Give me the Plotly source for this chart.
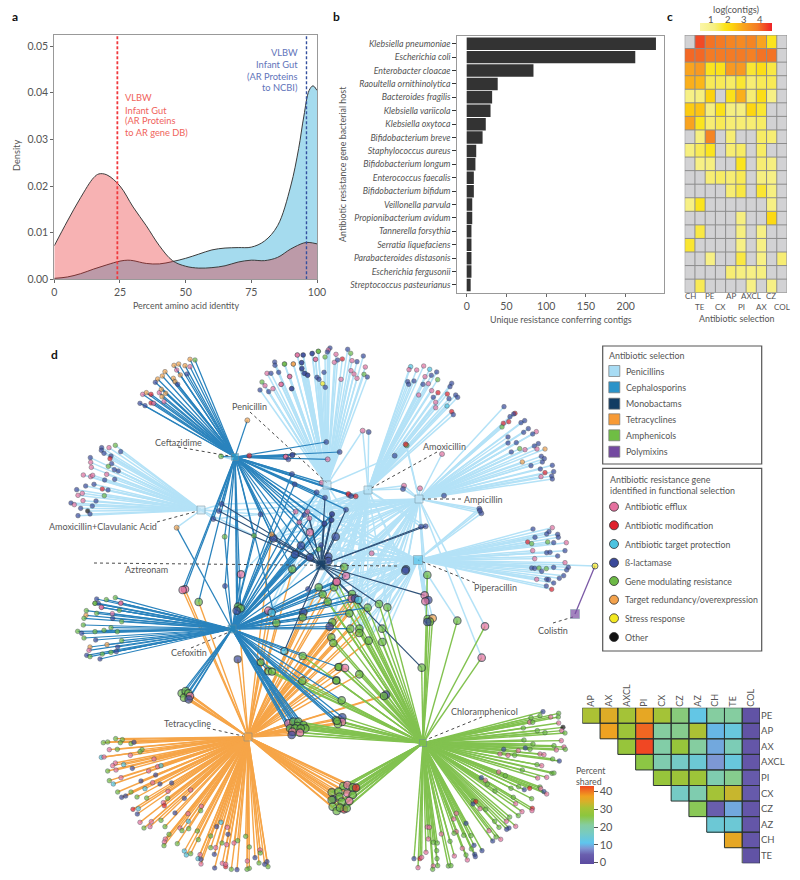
import plotly.graph_objects as go

W, H = 800, 880
FONT = "Lato"
TXT = "#555555"

# ---------- panel a ----------
identity_red = [0, 5, 10, 15, 17, 20, 25, 30, 35, 40, 45, 50, 55, 60, 65, 70, 75, 80, 85, 90, 95, 97, 100]
density_red = [.0072, .0125, .0175, .0218, .0226, .0224, .0200, .0155, .0115, .0072, .0040, .0028, .0024, .0025,
               .0029, .0037, .0041, .0040, .0047, .0065, .0078, .0079, .0076]
identity_blue = [0, 5, 10, 15, 20, 25, 28, 30, 35, 40, 45, 50, 55, 60, 65, 70, 75, 80, 85, 90, 93, 95, 97, 98.5, 100]
density_blue = [.0002, .0005, .0012, .0022, .0031, .0039, .0041, .0040, .0034, .0033, .0038, .0045, .0054, .0063,
                .0067, .0068, .0069, .0082, .0115, .0200, .0280, .0350, .0405, .0415, .0405]
median_red = 24
median_blue = 96

# ---------- panel b ----------
hosts = ["Klebsiella pneumoniae", "Escherichia coli", "Enterobacter cloacae", "Raoultella ornithinolytica",
         "Bacteroides fragilis", "Klebsiella variicola", "Klebsiella oxytoca", "Bifidobacterium breve",
         "Staphylococcus aureus", "Bifidobacterium longum", "Enterococcus faecalis", "Bifidobacterium bifidum",
         "Veillonella parvula", "Propionibacterium avidum", "Tannerella forsythia", "Serratia liquefaciens",
         "Parabacteroides distasonis", "Escherichia fergusonii", "Streptococcus pasteurianus"]
contigs = [238, 212, 84, 39, 32, 30, 24, 20, 12, 11, 9, 9, 7, 7, 6, 6, 6, 6, 5]

# ---------- panel c ----------
selections = ["CH", "TE", "PE", "CX", "AP", "PI", "AXCL", "AX", "CZ", "COL"]
N = None
log_contigs = [
    [N, 4.3, 3.9, 3.8, 3.6, 3.5, 3.6, 3.0, 1.8, N],
    [4.0, 4.0, 3.8, 3.8, 3.8, 3.8, 3.7, 3.9, 3.9, N],
    [3.0, 3.2, 1.8, 1.9, 3.2, 3.2, 1.7, 2.0, 1.6, N],
    [2.8, 2.7, 1.5, 1.5, 1.4, 1.7, 1.3, 1.5, 1.5, N],
    [1.1, 1.2, 2.3, N, 1.9, 2.8, 1.3, 2.0, 1.1, N],
    [2.4, 2.5, 1.2, 1.9, 1.2, 1.2, 2.2, 1.7, N, N],
    [3.0, 1.8, 1.3, 1.5, 1.3, 1.3, 1.3, 1.4, N, N],
    [N, 1.2, 3.6, N, 1.3, N, N, 1.4, 1.3, N],
    [1.2, 1.5, 1.8, N, 1.3, 1.4, N, 1.4, N, N],
    [N, 1.1, 1.2, N, N, 1.8, N, 1.3, 1.2, N],
    [N, N, 1.3, 1.4, 1.3, 1.5, N, 1.2, 1.1, N],
    [N, N, N, N, 1.3, 1.6, N, 1.7, 1.2, N],
    [1.1, 1.8, N, N, N, N, N, N, 1.1, N],
    [N, N, N, N, N, 1.2, N, N, 2.1, N],
    [N, 1.6, N, N, N, 1.2, N, 1.1, N, N],
    [1.7, N, N, N, N, 1.1, N, 1.1, N, N],
    [N, N, 1.1, N, N, 1.6, N, 1.1, N, 1.3],
    [N, N, N, N, 1.3, 1.2, 1.1, 1.2, N, N],
    [N, 1.5, N, N, N, N, 1.1, N, 1.1, N],
]

# ---------- panel d, shared heatmap ----------
shared_cols = ["AP", "AX", "AXCL", "PI", "CX", "CZ", "AZ", "CH", "TE", "COL"]
shared_rows = ["PE", "AP", "AX", "AXCL", "PI", "CX", "CZ", "AZ", "CH", "TE"]
percent_shared = [
    [31, 35, 30, 36, 30, 23, 12, 21, 21, 1],
    [N, 37, 29, 41, 21, 22, 31, 10, 13, 1],
    [N, N, 28, 44, 20, 28, 21, 9, 18, 2],
    [N, N, N, 26, 19, 16, 14, 8, 13, 2],
    [N, N, N, N, 28, 29, 29, 19, 22, 3],
    [N, N, N, N, N, 16, 19, 30, 33, 3],
    [N, N, N, N, N, N, 25, 4, 9, 2],
    [N, N, N, N, N, N, N, 14, 14, 2],
    [N, N, N, N, N, N, N, N, 36, 2],
    [N, N, N, N, N, N, N, N, N, 1],
]

# ---------- panel d, network ----------
hub_pos = {"P": (327, 485), "M": (368, 490), "A": (419, 499), "I": (418, 560), "C": (235, 457), "L": (201, 510),
           "Z": (321, 565), "F": (232, 629), "T": (248, 737), "H": (423, 743), "O": (575, 614)}
hub_fill = {"P": "#c6e7f6", "M": "#b4e0f4", "A": "#bfe4f6", "I": "#57c3ea", "C": "#2f9cc8", "L": "#bfe4f6",
            "Z": "#123c63", "F": "#2586b8", "T": "#f7a443", "H": "#7cc04a", "O": "#7b4fa3"}
hub_size = {"P": 8, "M": 8, "A": 8, "I": 9, "C": 7, "L": 8, "Z": 10, "F": 8, "T": 8, "H": 7, "O": 9}
edge_group = {"P": "pen", "M": "pen", "A": "pen", "I": "pen", "L": "pen", "C": "ceph", "F": "ceph", "Z": "mono",
              "T": "tet", "H": "amph", "O": "poly"}
edge_color = {"pen": "#b4e2f7", "tet": "#f6a548", "amph": "#82c250", "ceph": "#2a83bd", "mono": "#2f5279",
              "poly": "#7b5aa6"}
edge_width = {"pen": 1.5, "tet": 1.4, "amph": 1.4, "ceph": 1.25, "mono": 1.15, "poly": 1.3}
edge_order = ["pen", "tet", "amph", "ceph", "mono", "poly"]
gene_color = {"e": "#e5719f", "m": "#e0212c", "t": "#4cc3e0", "b": "#3b4a9b", "g": "#6db946", "o": "#f3a24c",
              "y": "#f3e820", "k": "#111111"}
gene_names = [("e", "Antibiotic efflux"), ("m", "Antibiotic modification"), ("t", "Antibiotic target protection"),
              ("b", "ß-lactamase"), ("g", "Gene modulating resistance"), ("o", "Target redundancy/overexpression"),
              ("y", "Stress response"), ("k", "Other")]
class_names = [("pen", "Penicillins", "#a8dcf4"), ("ceph", "Cephalosporins", "#2a93c9"),
               ("mono", "Monobactams", "#123c63"), ("tet", "Tetracyclines", "#f79a35"),
               ("amph", "Amphenicols", "#6fbe44"), ("poly", "Polymixins", "#7349a0")]

ceftazidime_top = [(465, 60, 'g'), (450, 58, 'o'), (450, 80, 'e'), (435, 77, 'o'), (416, 72, 'o'), (402, 76, 'o'),
    (375, 95, 'o'), (367, 108, 'o'), (353, 117, 'o'), (346, 127, 'b'), (410, 90, 'e'), (421, 105, 'o'), (441, 102, 'b'),
    (400, 115, 'o'), (405, 125, 'o'), (413, 133, 'b'), (358, 158, 'e'), (364, 148, 'o'), (377, 160, 'o'), (319, 158, 'o'),
    (308, 163, 'e'), (333, 163, 'm'), (333, 189, 'm'), (341, 190, 'e'), (372, 185, 'e'), (300, 190, 'b'), (315, 197, 'b'),
    (366, 170, 'o')]
clav_left = [(226, 316, 'g'), (207, 323, 'e'), (185, 323, 'b'), (184, 331, 'b'), (242, 335, 'b'), (192, 340, 'b'),
    (213, 348, 'b'), (210, 356, 'm'), (151, 353, 'b'), (152, 367, 'e'), (215, 371, 'b'), (154, 382, 'e'), (205, 379, 'g'),
    (223, 389, 'b'), (235, 393, 'b'), (130, 405, 'e'), (152, 410, 'e'), (158, 406, 'e'), (200, 403, 'e'), (194, 420, 'b'),
    (224, 418, 'b'), (162, 433, 'b'), (137, 438, 'b'), (187, 447, 'm'), (204, 450, 'b'), (110, 449, 'b'), (127, 460, 'e'),
    (114, 466, 'e'), (193, 467, 'g'), (129, 482, 'e'), (168, 483, 'b'), (93, 489, 'b'), (103, 494, 'e'), (157, 498, 'b'),
    (122, 505, 'b'), (143, 513, 'k'), (150, 522, 'b'), (114, 527, 'b')]
penicillin_top_l = [(772, 45, 'e'), (789, 45, 'b'), (817, 40, 'b'), (835, 34, 'g'), (826, 58, 'e'), (704, 66, 'b'),
    (705, 76, 'b'), (734, 72, 'g'), (760, 72, 'o'), (785, 68, 'b'), (681, 100, 'e'), (693, 100, 'b'), (716, 97, 'b'),
    (785, 87, 'b'), (749, 109, 'e'), (795, 100, 'b'), (803, 105, 'b'), (666, 126, 'g'), (675, 137, 'e'), (724, 133, 'e'),
    (660, 150, 'b'), (686, 155, 'b'), (699, 146, 'e'), (755, 146, 'b')]
penicillin_top_r = [(150, 24, 'b'), (145, 30, 'e'), (203, 28, 'b'), (115, 34, 'g'), (96, 41, 'b'), (142, 36, 'b'),
    (52, 45, 'e'), (70, 45, 'b'), (168, 43, 'e'), (212, 40, 'g'), (13, 72, 'g'), (40, 72, 'o'), (65, 68, 'b'), (107, 58, 'e'),
    (135, 51, 'g'), (250, 48, 'b'), (173, 60, 'b'), (187, 57, 'm'), (163, 67, 'e'), (216, 62, 'e'), (231, 65, 'b'),
    (256, 81, 'e'), (66, 85, 'b'), (213, 92, 'e'), (72, 100, 'b'), (83, 106, 'b'), (132, 97, 'b'), (252, 103, 'g'),
    (222, 102, 'e'), (29, 110, 'e'), (111, 112, 'b'), (117, 118, 'b'), (183, 118, 'e'), (231, 115, 'e'), (262, 111, 'b'),
    (3, 133, 'e'), (128, 131, 'y'), (136, 142, 'b'), (35, 146, 'b')]
amoxicillin_top = [(392, 80, 't'), (431, 78, 'e'), (449, 88, 't'), (387, 89, 'e'), (410, 90, 'e'), (470, 96, 'b'),
    (454, 106, 'b'), (435, 110, 'e'), (473, 119, 'g'), (383, 125, 'b'), (402, 123, 'b'), (386, 133, 'b'), (429, 133, 'b'),
    (445, 131, 'e'), (515, 130, 'b'), (510, 140, 'b'), (455, 152, 'e'), (474, 158, 'm'), (502, 162, 'm'), (416, 165, 'e'),
    (527, 165, 'b'), (460, 172, 'b'), (533, 172, 'b'), (507, 176, 'b'), (467, 187, 'e'), (501, 198, 't'), (467, 203, 'e'),
    (515, 215, 'm'), (520, 224, 'b')]
ampicillin_right = [(672, 200, 'b'), (705, 220, 'm'), (701, 222, 'b'), (690, 230, 'b'), (686, 245, 'm'), (670, 250, 'm'),
    (666, 261, 'g'), (734, 242, 'b'), (723, 248, 'b'), (745, 266, 'b'), (731, 277, 'b'), (769, 275, 'e'), (758, 282, 'b'),
    (684, 291, 'b'), (684, 309, 'b'), (709, 308, 'b'), (775, 311, 'b'), (763, 318, 'b'), (719, 326, 'g'), (735, 329, 'e'),
    (771, 327, 'e'), (795, 327, 'o'), (694, 336, 'b'), (784, 349, 'b'), (793, 356, 'b'), (787, 366, 'b'), (727, 366, 'o'),
    (753, 377, 'b'), (817, 376, 'b'), (781, 387, 'b'), (821, 395, 'b'), (795, 398, 'm'), (783, 410, 'e'), (815, 408, 'b'),
    (817, 417, 'b')]
piperacillin_right = [(817, 563, 'e'), (759, 567, 'b'), (807, 575, 'b'), (800, 582, 'b'), (833, 583, 'b'), (835, 592, 'b'),
    (765, 592, 'b'), (743, 606, 'm'), (755, 611, 'g'), (803, 606, 'g'), (821, 608, 'b'), (859, 608, 'e'), (855, 632, 'b'),
    (758, 632, 'e'), (800, 638, 'b'), (810, 637, 'b'), (833, 648, 'b'), (764, 656, 'e'), (855, 668, 'e'), (755, 684, 'b'),
    (764, 685, 'b'), (777, 684, 'g'), (799, 686, 'g'), (821, 682, 'b'), (865, 682, 'b'), (860, 690, 'b'), (785, 694, 'b'),
    (851, 707, 'b'), (838, 715, 'b'), (770, 718, 'e'), (800, 718, 'b'), (806, 719, 'b'), (821, 729, 'b'), (799, 738, 'b'),
    (815, 748, 'm')]
cefoxitin_left_a = [(105, 10, 'g'), (115, 10, 'b'), (183, 9, 'e'), (79, 32, 'g'), (125, 22, 'e'), (110, 40, 'g'),
    (178, 31, 'g'), (157, 41, 'e'), (78, 46, 'o'), (72, 55, 'g'), (158, 55, 'b'), (185, 65, 'g'), (70, 75, 'g'), (53, 94, 'g'),
    (65, 100, 'b'), (105, 95, 'g'), (132, 91, 'g'), (153, 83, 'g'), (172, 95, 'g'), (72, 114, 'g'), (107, 120, 'b'),
    (185, 122, 'g'), (141, 134, 'o'), (90, 141, 'o'), (173, 141, 'b'), (87, 151, 'e'), (127, 162, 'g'), (153, 157, 'g'),
    (169, 155, 'b'), (80, 166, 'b'), (90, 170, 'g'), (120, 177, 'b')]
cefoxitin_left_b = [(170, 777, 'b'), (199, 779, 'g'), (226, 773, 'g'), (165, 790, 'g'), (242, 790, 'e'), (184, 802, 'e')]
tetracycline_fan = [(167, 416, 'g'), (187, 419, 'g'), (130, 428, 'g'), (143, 426, 'g'), (181, 428, 'g'), (213, 431, 'g'),
    (222, 427, 'b'), (148, 449, 'e'), (172, 448, 'g'), (246, 449, 'g'), (240, 455, 'g'), (124, 472, 't'), (132, 471, 'e'),
    (211, 466, 'e'), (282, 477, 'e'), (166, 489, 'e'), (158, 497, 'e'), (191, 494, 't'), (217, 505, 'b'), (293, 500, 'e'),
    (303, 497, 't'), (143, 513, 'g'), (168, 510, 'e'), (266, 513, 'e'), (287, 525, 'b'), (183, 533, 'e'), (148, 542, 'g'),
    (243, 543, 'b'), (278, 548, 'e'), (300, 552, 'b'), (335, 549, 'b'), (160, 552, 't'), (255, 566, 't'), (213, 576, 'g'),
    (173, 576, 'g'), (324, 574, 'e'), (392, 570, 'e'), (197, 588, 'b'), (185, 592, 'b'), (231, 591, 'g'), (260, 594, 'g'),
    (323, 595, 'g'), (373, 595, 'b'), (310, 608, 'e'), (313, 617, 'm'), (219, 628, 'm'), (235, 626, 't'), (232, 642, 'b'),
    (424, 619, 'e'), (422, 632, 'g'), (345, 639, 'b'), (384, 641, 'e'), (240, 667, 'e'), (274, 665, 'e'), (270, 680, 'e'),
    (252, 684, 'g'), (303, 661, 'g'), (385, 664, 't'), (315, 680, 'g'), (360, 684, 'e'), (366, 692, 'g'), (386, 686, 'g'),
    (483, 667, 't'), (470, 680, 'b'), (502, 682, 'e'), (412, 693, 'g'), (327, 703, 'g'), (504, 703, 'b'), (452, 708, 'g'),
    (557, 709, 'g'), (316, 717, 'e'), (313, 726, 'e'), (312, 737, 'g'), (352, 731, 'g'), (415, 719, 'g'), (533, 722, 'g'),
    (522, 729, 'e'), (486, 729, 'g'), (500, 734, 'e'), (467, 743, 'e'), (452, 743, 'g'), (568, 741, 'g'), (373, 753, 't'),
    (379, 765, 't'), (392, 761, 'g'), (463, 763, 'b'), (420, 764, 'e'), (414, 776, 't'), (423, 778, 'b'), (423, 792, 'e'),
    (600, 750, 'e'), (601, 759, 'g'), (585, 773, 'b'), (562, 783, 'e'), (487, 790, 'e'), (497, 800, 'm'), (497, 793, 'e'),
    (621, 785, 'b'), (614, 793, 'b'), (597, 789, 'g'), (624, 800, 'g'), (464, 804, 'b'), (514, 808, 'g'), (531, 809, 'b'),
    (568, 805, 'g'), (561, 808, 'g')]
chloramphenicol_fan = [(609, 335, 'b'), (656, 340, 'g'), (573, 353, 'g'), (600, 347, 'g'), (632, 351, 'e'), (655, 351, 'g'),
    (569, 367, 'e'), (578, 367, 'g'), (656, 369, 'e'), (669, 382, 'k'), (550, 384, 'g'), (592, 392, 'g'), (665, 392, 'e'),
    (615, 398, 'g'), (675, 399, 'g'), (552, 420, 'g'), (664, 422, 'e'), (579, 432, 'g'), (642, 437, 'g'), (491, 448, 'b'),
    (535, 452, 'e'), (556, 444, 'b'), (570, 448, 'g'), (672, 441, 'e'), (649, 450, 'e'), (676, 448, 'g'), (480, 462, 'e'),
    (504, 466, 'e'), (524, 466, 'g'), (600, 462, 'e'), (612, 464, 'e'), (638, 477, 'g'), (658, 483, 'b'), (591, 494, 'g'),
    (605, 497, 'e'), (547, 510, 'g'), (476, 516, 'e'), (496, 527, 'g'), (636, 520, 'g'), (642, 519, 'g'), (593, 534, 'e'),
    (620, 532, 'e'), (424, 533, 'b'), (436, 541, 'e'), (442, 553, 'g'), (536, 560, 'g'), (513, 565, 'g'), (553, 569, 'b'),
    (569, 565, 'm'), (600, 561, 'g'), (602, 566, 'e'), (465, 573, 'g'), (612, 575, 'b'), (620, 582, 'e'), (520, 592, 'g'),
    (575, 596, 'g'), (400, 603, 'g'), (407, 605, 'm'), (399, 612, 'b'), (527, 611, 'e'), (420, 626, 'e'), (437, 628, 'g'),
    (577, 625, 'm'), (576, 632, 'e'), (546, 635, 'e'), (349, 640, 'e'), (535, 647, 'g'), (341, 657, 'e'), (509, 651, 'g'),
    (464, 664, 'g'), (499, 664, 'e'), (378, 670, 'b'), (527, 679, 'e'), (477, 682, 'g'), (507, 684, 'b'), (500, 688, 'b'),
    (262, 681, 'e'), (268, 682, 'e'), (447, 692, 'e'), (349, 695, 'e'), (342, 700, 'g'), (304, 702, 'e'), (371, 706, 'g'),
    (393, 707, 'g'), (468, 711, 'g'), (482, 718, 'e'), (458, 723, 'b'), (265, 717, 'e'), (330, 724, 'g'), (280, 727, 'g'),
    (292, 729, 'g'), (402, 736, 'b'), (290, 752, 'g'), (367, 745, 'e'), (394, 747, 'g'), (426, 752, 'b'), (258, 757, 'e'),
    (343, 768, 'e'), (378, 765, 'g'), (404, 763, 'b'), (406, 770, 'b'), (222, 776, 'b'), (240, 776, 'm'), (245, 772, 'e'),
    (291, 776, 'g'), (382, 780, 'e'), (234, 803, 'e'), (280, 798, 'e'), (293, 797, 'g'), (325, 798, 'g'), (333, 797, 'g'),
    (278, 808, 'g')]
# fans: hubs, crop origin, leaves
fans = [("C", 40, 340, ceftazidime_top), ("L", 40, 340, clav_left), ("P", 40, 340, penicillin_top_l),
        ("P", 280, 340, penicillin_top_r), ("M", 280, 340, amoxicillin_top), ("A", 280, 340, ampicillin_right),
        ("I", 280, 340, piperacillin_right), ("F", 60, 600, cefoxitin_left_a), ("F", 40, 340, cefoxitin_left_b),
        ("T", 60, 600, tetracycline_fan), ("H", 340, 600, chloramphenicol_fan)]

# shared nodes: x, y, gene, hubs, with crop origin in the group tuple
big_a = [(310, 115, 'b', 'PMAICFZ'), (393, 137, 'b', 'PMAICFZ'), (375, 163, 'b', 'PMAICFZ'), (420, 172, 'b', 'PMAIFZ'),
    (367, 208, 'g', 'PMCFT'), (420, 97, 'e', 'PMAICF'), (497, 110, 'b', 'PMAIZ'), (475, 170, 'b', 'PMAIZ'), (475, 183, 'b', 'PMAIFZ'),
    (213, 223, 'e', 'PF'), (45, 268, 'e', 'CT'), (38, 270, 'e', 'CT'), (86, 306, 'g', 'CT'), (204, 320, 'g', 'CFT'), (212, 325, 'g', 'CF'),
    (200, 332, 'b', 'CF'), (295, 332, 'e', 'PMFT'), (305, 338, 't', 'PFT'), (319, 369, 'g', 'CFT'), (400, 337, 'b', 'MAFT'),
    (398, 352, 'g', 'MAFT'), (446, 262, 'g', 'MAIFTH'), (458, 283, 'g', 'MAIFTH'), (473, 305, 'g', 'MAIFTH'), (492, 262, 'g', 'MAIFH'),
    (500, 246, 'e', 'PMAIFH'), (487, 367, 'g', 'MAIFTH'), (479, 380, 'b', 'MAIFT'), (484, 412, 'g', 'TH'), (490, 429, 'g', 'TH')]
small_a = [(164, 110, 'g', 'CF'), (252, 107, 'g', 'CFL'), (305, 103, 'o', 'CFT'), (20, 83, 'o', 'LF'), (165, 258, 'b', 'CF'),
    (130, 57, 'b', 'CZAL'), (147, 33, 'b', 'CZAL'), (155, 12, 'b', 'CZAL'), (272, 43, 'b', 'CFL'), (388, 67, 'e', 'PMCZ'),
    (377, 35, 'e', 'PMCF'), (412, 35, 'e', 'AMCZ'), (403, 45, 'b', 'PACF'), (418, 55, 'e', 'IMFZ'), (463, 72, 'b', 'PMACFZ'),
    (486, 43, 'b', 'PMAIF'), (483, 60, 'b', 'AICFZ'), (453, 135, 'b', 'PAFZ'), (446, 148, 'g', 'MCF'), (414, 267, 'b', 'FZ')]
big_b = [(133, 141, 'g', 'PMAITZ'), (138, 168, 'e', 'PMAIFZ'), (110, 185, 'e', 'PMAIFZ'), (156, 222, 'g', 'MAIHTF'),
    (155, 236, 'e', 'MAIHTF'), (165, 235, 'b', 'MAIHTFZ'), (175, 240, 't', 'MIHTF'), (203, 263, 'g', 'MAIHTF'), (237, 252, 'g', 'AIHZ'),
    (262, 262, 'g', 'MIHA'), (148, 280, 'g', 'MAIHTF'), (151, 326, 'g', 'MAIHTF'), (178, 326, 'g', 'AIHT'), (178, 339, 'g', 'MIHT'),
    (246, 326, 'g', 'HI'), (206, 362, 'g', 'AIHT'), (247, 366, 'g', 'HI'), (8, 408, 'g', 'HFT'), (118, 441, 'g', 'HT'),
    (135, 444, 'e', 'HT'), (178, 463, 'g', 'HT'), (7, 482, 'g', 'HTF'), (109, 481, 'g', 'HTF'), (125, 541, 'g', 'HF'),
    (258, 524, 'b', 'HT'), (252, 528, 'g', 'HT'), (318, 148, 'b', 'MA'), (316, 152, 'b', 'MAI'), (382, 165, 'g', 'IH'),
    (374, 226, 'e', 'AIZ'), (385, 240, 'b', 'AI'), (376, 244, 'e', 'AI'), (383, 297, 'g', 'HI'), (398, 295, 'o', 'HI'),
    (390, 305, 'g', 'HI'), (382, 306, 'b', 'HI'), (472, 302, 'g', 'HI'), (555, 319, 'e', 'AH'), (545, 413, 'e', 'AH'),
    (365, 443, 'g', 'HZ')]
small_b = [(363, 20, 'b', 'ZM'), (377, 19, 'b', 'ZM'), (215, 100, 'e', 'PI')]
singles_a = [(543, 349, 'g', 'CP'), (628, 347, 'm', 'C'), (622, 241, 'o', 'C'), (738, 350, 'e', 'C'), (757, 345, 'b', 'C')]
singles_b = [(139, 306, 'b', 'C'), (179, 336, 'b', 'C'), (143, 358, 'e', 'C'), (37, 345, 'b', 'C'), (17, 350, 'e', 'C'),
    (25, 358, 'b', 'C'), (248, 272, 'e', 'PM'), (266, 276, 'b', 'M'), (380, 316, 'g', 'AM'), (377, 313, 'm', 'AM'),
    (344, 347, 'b', 'MP'), (486, 342, 'e', 'A'), (492, 467, 'b', 'A'), (420, 445, 'e', 'A'), (372, 437, 'e', 'AM'),
    (369, 447, 'b', 'AM'), (598, 506, 'b', 'AI'), (604, 520, 'b', 'AI'), (600, 512, 'b', 'AI'), (207, 465, 'e', 'MC'),
    (227, 469, 'm', 'MC'), (205, 462, 'm', 'C'), (213, 468, 'b', 'C'), (135, 473, 'b', 'CZ'), (110, 457, 'b', 'CF'),
    (125, 428, 'e', 'CP'), (44, 433, 'b', 'CF'), (36, 402, 'b', 'CF'), (198, 509, 'b', 'CZA'), (156, 522, 'b', 'FZA'),
    (155, 540, 'b', 'MZI'), (133, 550, 'b', 'CZP')]
cluster_nodes = [(365, 280, 'g', 'FT'), (377, 273, 'g', 'FT'), (372, 293, 'g', 'FT'), (385, 280, 'g', 'FT'),
    (390, 288, 'e', 'FT'), (386, 298, 'b', 'FT'),
    (685, 370, 'e', 'FTH'), (700, 365, 'g', 'FTH'), (715, 365, 'g', 'FTH'), (730, 375, 'g', 'FTH'), (736, 385, 'g', 'FTH'),
    (712, 378, 'g', 'FTH'), (690, 385, 'g', 'FTH'), (705, 385, 'g', 'FTH'), (722, 385, 'g', 'FTH'), (697, 395, 'e', 'FTH'),
    (720, 398, 'e', 'FTH'), (695, 405, 'b', 'FTH'),
    (815, 577, 'g', 'TH'), (850, 558, 'g', 'TH'), (862, 555, 'e', 'TH'), (878, 562, 'g', 'TH'), (888, 563, 'm', 'TH'),
    (835, 575, 'g', 'TH'), (862, 580, 'e', 'TH'), (878, 585, 'g', 'TH'), (820, 598, 'b', 'TH'), (815, 600, 'g', 'TH'),
    (838, 590, 'g', 'TH'), (868, 603, 'e', 'TH'), (845, 605, 'g', 'TH'), (818, 620, 'g', 'TH'), (830, 633, 'g', 'TH'),
    (852, 628, 'm', 'TH'), (840, 623, 'g', 'TH'), (860, 625, 'g', 'TH'),
    (828, 360, 'g', 'FHT'), (847, 352, 'b', 'FHT'), (846, 366, 'e', 'FHT'), (834, 372, 'g', 'FHT')]
cefoxitin_lone = [(272, 127, 'g', 'FTH'), (295, 154, 'g', 'FH'), (306, 155, 'g', 'FH'), (343, 93, 't', 'FZ'),
    (203, 118, 'b', 'T'), (505, 141, 'g', 'FH'), (499, 182, 'g', 'FH'), (501, 303, 'g', 'FH')]
colistin_nodes = [(595, 566, 'y', 'OI')]
shared_groups = [(170, 500, big_a, 7.5), (170, 500, small_a, 5), (300, 520, big_b, 7.5), (300, 520, small_b, 5),
                 (40, 340, singles_a, 5), (280, 340, singles_b, 5), (60, 600, cluster_nodes, 7.5),
                 (170, 620, cefoxitin_lone, 7)]

# name, label centre, leader start, leader end
drug_labels = [("Penicillin", 249, 406, 250, 412, 327, 483), ("Ceftazidime", 178, 442, 178, 447, 235, 457),
               ("Amoxicillin", 444, 446, 437, 452, 368, 490), ("Ampicillin", 483, 499, 461, 499, 419, 499),
               ("Amoxicillin+Clavulanic Acid", 103, 526, 157, 522, 198, 511), ("Aztreonam", 146, 569, 94, 563, 397, 566),
               ("Piperacillin", 495, 587, 475, 583, 418, 560), ("Cefoxitin", 189, 652, 191, 648, 227, 633),
               ("Tetracycline", 187, 723, 207, 728, 243, 736), ("Chloramphenicol", 485, 711, 482, 717, 428, 739),
               ("Colistin", 553, 630, 553, 623, 573, 617)]


def dx(a, b):
    return [a / W, b / W]


def dy(top, bottom):
    return [1 - bottom / H, 1 - top / H]


fig = go.Figure()

# ---- panel a
fig.add_trace(go.Scatter(x=identity_blue, y=density_blue, mode="lines", line=dict(color="#3c3c3c", width=1, shape="spline"),
                         fill="tozeroy", fillcolor="#a5dbee", xaxis="x", yaxis="y", showlegend=False))
fig.add_trace(go.Scatter(x=identity_red, y=density_red, mode="lines", line=dict(color="#3c3c3c", width=1, shape="spline"),
                         fill="tozeroy", fillcolor="rgba(232,35,38,0.35)", xaxis="x", yaxis="y", showlegend=False))
fig.add_trace(go.Scatter(x=[median_red, median_red], y=[0, 0.0525], mode="lines",
                         line=dict(color="#f0393c", width=1.8, dash="3px,2px"), xaxis="x", yaxis="y", showlegend=False))
fig.add_trace(go.Scatter(x=[median_blue, median_blue], y=[0, 0.0525], mode="lines",
                         line=dict(color="#34509f", width=1.4, dash="3px,2px"), xaxis="x", yaxis="y", showlegend=False))

# ---- panel b
fig.add_trace(go.Bar(x=contigs, y=list(range(len(hosts))), orientation="h", marker=dict(color="#333333", line_width=0),
                     width=0.93, xaxis="x2", yaxis="y2", showlegend=False))

# ---- panel c
nr, nc = len(log_contigs), len(selections)
xs = list(range(nc))
ys = list(range(nr))
fig.add_trace(go.Heatmap(z=[[0] * nc for _ in ys], x=xs, y=ys, zmin=0, zmax=1, colorscale=[[0, "#d2d2d4"], [1, "#d2d2d4"]],
                         showscale=False, xaxis="x3", yaxis="y3", hoverinfo="skip"))
fig.add_trace(go.Heatmap(z=log_contigs, x=xs, y=ys, zmin=0.33, zmax=4.7, xaxis="x3", yaxis="y3",
                         colorscale=[[0, "#fbf6a8"], [0.2, "#f6ef80"], [0.27, "#f8ea55"], [0.34, "#fbe41c"], [0.45, "#fdd20e"],
                                     [0.6, "#f9a51f"], [0.8, "#f47a25"], [1, "#ee2227"]],
                         colorbar=dict(orientation="h", x=700 / W, xanchor="left", y=1 - 31.3 / H, yanchor="bottom",
                                       len=71.7, lenmode="pixels", thickness=7.6, thicknessmode="pixels",
                                       outlinewidth=0, ticks="", showticklabels=False, ypad=0, xpad=0)))
grid_x, grid_y = [], []
for i in range(nc + 1):
    grid_x.extend([i - .5, i - .5, None])
    grid_y.extend([-.5, nr - .5, None])
for j in range(nr + 1):
    grid_x.extend([-.5, nc - .5, None])
    grid_y.extend([j - .5, j - .5, None])
fig.add_trace(go.Scatter(x=grid_x, y=grid_y, mode="lines", line=dict(color="#8c8c8c", width=1), xaxis="x3", yaxis="y3",
                         showlegend=False, hoverinfo="skip"))

# ---- panel d, shared heatmap
sx = list(range(10))
sy = list(range(10))
fig.add_trace(go.Heatmap(z=percent_shared, x=sx, y=sy, zmin=-1, zmax=43, xaxis="x4", yaxis="y4",
                         colorscale=[[0, "#5b4ba0"], [0.12, "#6a5fae"], [0.2, "#7f95d2"], [0.27, "#5ec5ee"],
                                     [0.4, "#78cbc0"], [0.5, "#85cda0"], [0.62, "#8cc63f"], [0.72, "#a8c335"],
                                     [0.8, "#d7b02a"], [0.87, "#f0a120"], [1, "#f04723"]],
                         colorbar=dict(x=580 / W, xanchor="left", y=1 - 864.3 / H, yanchor="bottom",
                                       len=77.6, lenmode="pixels", thickness=14.3, thicknessmode="pixels", outlinewidth=0,
                                       ticks="outside", ticklen=4, tickcolor="#555", tickvals=[0, 10, 20, 30, 40],
                                       tickfont=dict(size=11, color=TXT, family=FONT), ypad=0, xpad=0)))
cell_x, cell_y = [], []
for r, row in enumerate(percent_shared):
    for c, v in enumerate(row):
        if v is not None:
            cell_x.extend([c - .5, c + .5, c + .5, c - .5, c - .5, None])
            cell_y.extend([r - .5, r - .5, r + .5, r + .5, r - .5, None])
fig.add_trace(go.Scatter(x=cell_x, y=cell_y, mode="lines", line=dict(color="#2a3330", width=1), xaxis="x4", yaxis="y4",
                         showlegend=False, hoverinfo="skip"))

# ---- network edges
edges = {k: ([], []) for k in edge_order}


def add_edge(hub, x, y):
    hx, hy = hub_pos[hub]
    ex, ey = edges[edge_group[hub]]
    ex.extend([hx, x, None])
    ey.extend([hy, y, None])


node_x, node_y, node_c, node_s, node_lw = [], [], [], [], []
for hub, ox, oy, leaves in fans:
    for zx, zy, g in leaves:
        x, y = ox + zx / 3, oy + zy / 3
        add_edge(hub, x, y)
        node_x.append(x); node_y.append(y); node_c.append(gene_color[g]); node_s.append(4.6); node_lw.append(0.5)
for ox, oy, nodes, size in shared_groups:
    for zx, zy, g, hubs in nodes:
        x, y = ox + zx / 3, oy + zy / 3
        for hub in hubs:
            add_edge(hub, x, y)
        node_x.append(x); node_y.append(y); node_c.append(gene_color[g]); node_s.append(size)
        node_lw.append(1.1 if size > 6 else 0.6)
for x, y, g, hubs in colistin_nodes:
    for hub in hubs:
        add_edge(hub, x, y)
    node_x.append(x); node_y.append(y); node_c.append(gene_color[g]); node_s.append(6); node_lw.append(1)

for k in edge_order:
    fig.add_trace(go.Scatter(x=edges[k][0], y=edges[k][1], mode="lines", xaxis="x5", yaxis="y5", showlegend=False,
                             line=dict(color=edge_color[k], width=edge_width[k]), hoverinfo="skip"))
# leaders
lead_x, lead_y = [], []
for _, _, _, x0, y0, x1, y1 in drug_labels:
    lead_x.extend([x0, x1, None])
    lead_y.extend([y0, y1, None])
fig.add_trace(go.Scatter(x=lead_x, y=lead_y, mode="lines", xaxis="x5", yaxis="y5", showlegend=False,
                         line=dict(color="#4a4a4a", width=1, dash="3px,3px"), hoverinfo="skip"))
# nodes
fig.add_trace(go.Scatter(x=node_x, y=node_y, mode="markers", xaxis="x5", yaxis="y5", showlegend=False,
                         marker=dict(color=node_c, size=node_s, line=dict(color="#27313a", width=node_lw))))
# hubs
hk = list(hub_pos)
fig.add_trace(go.Scatter(x=[hub_pos[k][0] for k in hk], y=[hub_pos[k][1] for k in hk], mode="markers", xaxis="x5", yaxis="y5",
                         showlegend=False, marker=dict(symbol="square", color=[hub_fill[k] for k in hk],
                                                       size=[hub_size[k] for k in hk],
                                                       line=dict(color="#6b8a99", width=0.7))))
# legends
for i, (k, name, c) in enumerate(class_names):
    fig.add_trace(go.Scatter(x=[614.3], y=[[371, 387.3, 403.7, 419.3, 435.3, 451.7][i]], mode="markers", xaxis="x5", yaxis="y5",
                             showlegend=False, marker=dict(symbol="square", color=c, size=11, line=dict(color="#777", width=0.7))))
for i, (g, name) in enumerate(gene_names):
    fig.add_trace(go.Scatter(x=[614], y=[[506.7, 525.3, 544, 562.7, 581, 599.7, 618.3, 637][i]], mode="markers", xaxis="x5", yaxis="y5",
                             showlegend=False, marker=dict(color=gene_color[g], size=9, line=dict(color="#333", width=0.8))))

ann = []


def label(x, y, text, size=9, color=TXT, anchor="center", angle=0, bold=False):
    ann.append(dict(x=x / W, y=1 - y / H, xref="paper", yref="paper", text=f"<b>{text}</b>" if bold else text, showarrow=False,
                    xanchor=anchor, yanchor="middle", textangle=angle, align=anchor if anchor != "center" else "center",
                    font=dict(size=size, color=color, family=FONT)))


label(10, 17, "a", 12, "#111", "left", bold=True)
label(331, 16, "b", 12, "#111", "left", bold=True)
label(665, 17, "c", 12, "#111", "left", bold=True)
label(49, 354, "d", 12, "#111", "left", bold=True)
label(17, 156, "Density", 9.2, angle=-90)
label(186, 306, "Percent amino acid identity", 8.9)
for i, t in enumerate(["VLBW", "Infant Gut", "(AR Proteins", "to AR gene DB)"]):
    label(123, [98, 110, 121, 132][i], t, 9.3, "#f0635c", "left")
for i, t in enumerate(["VLBW", "Infant Gut", "(AR Proteins", "to NCBI)"]):
    label(300, [53, 65, 76, 87][i], t, 9.3, "#5f74ba", "right")
label(342, 164, "Antibiotic resistance gene bacterial host", 8.9, angle=-90)
label(561, 319, "Unique resistance conferring contigs", 8.9)
label(736, 10, "log(contigs)", 9.3)
for tick, px in zip([1, 2, 3, 4], [711, 727.7, 743.7, 760.3]):
    label(px, 20, str(tick), 9.5)
label(736, 318, "Antibiotic selection", 8.9)
col_centres = [690, 700, 710, 720, 731, 741, 751, 761, 771, 782]
for i, s in enumerate(selections):
    label(col_centres[i], 306.5 if i % 2 else 296, s, 8)
for name, x, y, *_ in drug_labels:
    label(x, y, name, 9)
label(574, 770, "Percent", 8.8, anchor="left")
label(574, 781, "shared", 8.8, anchor="left")
label(607, 355.7, "Antibiotic selection", 8.9, anchor="left")
for i, (_, name, _c) in enumerate(class_names):
    label(624.3, [371, 387.3, 403.7, 419.3, 435.3, 451.7][i], name, 8.9, anchor="left")
label(607.7, 479.7, "Antibiotic resistance gene", 8.9, anchor="left")
label(607.7, 490.3, "identified in functional selection", 8.9, anchor="left")
for i, (_, name) in enumerate(gene_names):
    label(623, [506.7, 525.3, 544, 562.7, 581, 599.7, 618.3, 637][i], name, 8.8, anchor="left")

shapes = [dict(type="rect", xref="paper", yref="paper", x0=602.7 / W, x1=761.7 / W, y0=1 - 464 / H, y1=1 - 346 / H,
               line=dict(color="#555", width=1.2)),
          dict(type="rect", xref="paper", yref="paper", x0=602.7 / W, x1=761.7 / W, y0=1 - 651 / H, y1=1 - 468.3 / H,
               line=dict(color="#555", width=1.2))]

frame = dict(showline=True, linecolor="#999999", linewidth=1, mirror=True, zeroline=False, showgrid=False, fixedrange=True,
             ticks="outside", ticklen=3, tickcolor="#666666", tickfont=dict(size=10.5, color=TXT, family=FONT))
hidden = dict(visible=False, fixedrange=True, showgrid=False, zeroline=False)

fig.update_layout(
    width=W, height=H, autosize=False, margin=dict(l=0, r=0, t=0, b=0, pad=0, autoexpand=False),
    paper_bgcolor="white", plot_bgcolor="rgba(0,0,0,0)", showlegend=False, barmode="overlay",
    font=dict(family=FONT, color=TXT), annotations=ann, shapes=shapes,
    xaxis=dict(domain=dx(54.3, 317), range=[0, 100], tickvals=[0, 25, 50, 75, 100], anchor="y", **frame),
    yaxis=dict(domain=dy(34.5, 279.3), range=[0, 0.0525], tickvals=[0, .01, .02, .03, .04, .05], tickformat=".2f", anchor="x", **frame),
    xaxis2=dict(domain=dx(457.3, 664.3), range=[-11.8, 248.5], tickvals=[0, 50, 100, 150, 200], anchor="y2", **frame),
    yaxis2=dict(domain=dy(35.7, 293), range=[18.6, -0.6], tickvals=list(range(len(hosts))),
                ticktext=[f"<i>{h}</i>" for h in hosts], anchor="x2", **{**frame, "ticklen": 4, "tickcolor": "#333",
                "tickfont": dict(size=8.8, color=TXT, family=FONT)}),
    xaxis3=dict(domain=dx(684.7, 787), range=[-0.5, 9.5], anchor="y3", **hidden),
    yaxis3=dict(domain=dy(35, 292.7), range=[18.5, -0.5], anchor="x3", **hidden),
    xaxis4=dict(domain=dx(582.3, 760), range=[-0.5, 9.5], tickvals=sx, ticktext=shared_cols, side="top", tickangle=-90, anchor="y4",
                showline=False, ticks="", showgrid=False, zeroline=False, fixedrange=True, tickfont=dict(size=9, color=TXT, family=FONT)),
    yaxis4=dict(domain=dy(707.7, 863.3), range=[9.5, -0.5], tickvals=sy, ticktext=shared_rows, side="right", anchor="x4",
                showline=False, ticks="", showgrid=False, zeroline=False, fixedrange=True, tickfont=dict(size=9.5, color=TXT, family=FONT)),
    xaxis5=dict(domain=[0, 1], range=[0, W], anchor="y5", **hidden),
    yaxis5=dict(domain=[0, 1], range=[H, 0], anchor="x5", **hidden),
)

fig.write_html("out.html", config=dict(displayModeBar=False),
               post_script="document.body.style.margin='0';document.documentElement.style.overflow='hidden';")
